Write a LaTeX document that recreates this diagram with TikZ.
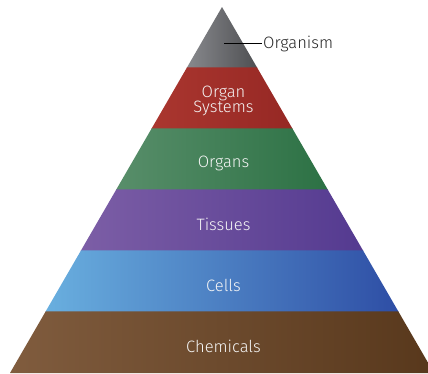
\documentclass[tikz,border=0pt]{standalone}
\usepackage{fontspec}
\setmainfont{Fira Sans Light}
\usetikzlibrary{calc}

\tikzset{
  level label/.style={text=white!92!gray, align=center, inner sep=1pt,
    font=\fontsize{16.5}{13.5}\selectfont},
}

\begin{document}
\begin{tikzpicture}[x=1pt, y=-1pt]
            % Define Colors of the levels (left, middle, right of each band)
            \definecolor{lv0L}{RGB}{136, 137, 141}  % Gray
            \definecolor{lv0M}{RGB}{108, 109, 113}
            \definecolor{lv0R}{RGB}{ 78,  79,  82}
            \definecolor{lv1L}{RGB}{170,  54,  47}  % Red
            \definecolor{lv1M}{RGB}{160,  47,  42}
            \definecolor{lv1R}{RGB}{150,  40,  36}
            \definecolor{lv2L}{RGB}{ 88, 142, 106}  % Green
            \definecolor{lv2M}{RGB}{ 68, 128,  88}
            \definecolor{lv2R}{RGB}{ 44, 113,  68}
            \definecolor{lv3L}{RGB}{124,  94, 166}  % Purple
            \definecolor{lv3M}{RGB}{105,  76, 155}
            \definecolor{lv3R}{RGB}{ 84,  58, 144}
            \definecolor{lv4L}{RGB}{105, 175, 223}  % Blue
            \definecolor{lv4M}{RGB}{ 62, 140, 205}
            \definecolor{lv4R}{RGB}{ 46,  78, 165}
            \definecolor{lv5L}{RGB}{128,  92,  62}  % Brown
            \definecolor{lv5M}{RGB}{110,  75,  45}
            \definecolor{lv5R}{RGB}{ 88,  56,  28}

            \useasboundingbox (0,0) rectangle (428,373);
            \clip (0,0) rectangle (428,373);

            % Corners of the pyramid
            \coordinate (apex) at (222,7);
            \coordinate (baseL) at (10,373);
            \coordinate (baseR) at (434,373);

            % --- BANDS ---
            \foreach \i in {0,...,5} {
                    \pgfmathsetmacro{\ta}{max(\i/6-0.002,0)}
                    \pgfmathsetmacro{\tb}{(\i+1)/6}
                    \shade[left color=lv\i L, middle color=lv\i M, right color=lv\i R]
                        ($(apex)!\ta!(baseL)$) -- ($(apex)!\tb!(baseL)$) --
                        ($(apex)!\tb!(baseR)$) -- ($(apex)!\ta!(baseR)$) -- cycle;
                }

            % Labels
            \node[level label] (systems)   at (223.5, 101) {Organ\\Systems};
            \node[level label] (organs)    at (223.5, 163) {Organs};
            \node[level label] (tissues)   at (223.5, 224) {Tissues};
            \node[level label] (cells)     at (223.5, 285) {Cells};
            \node[level label] (chemicals) at (223.5, 346.5) {Chemicals};

            % Organism callout
            \coordinate (tip) at (224,43);
            \node[anchor=west, inner sep=1pt, text=black!85, font=\fontsize{16.5}{13.5}\selectfont] (organism) at (262,44) {Organism};
            \draw[line width=1pt] (tip) -- (tip -| organism.west);

        \end{tikzpicture}
\end{document}
